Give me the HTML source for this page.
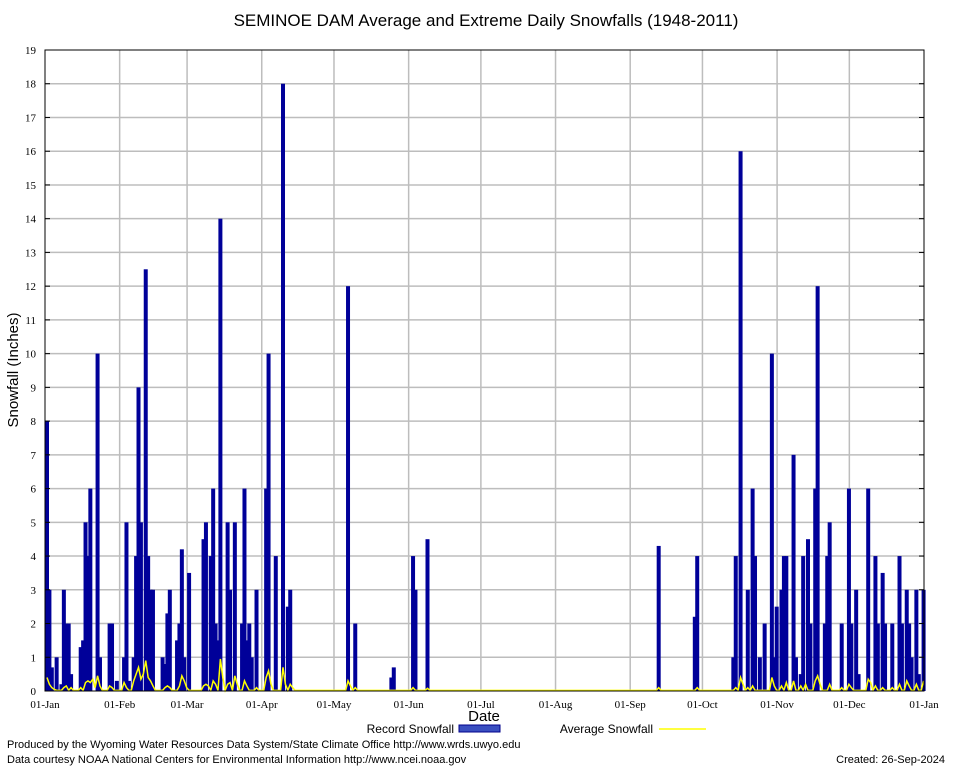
<!DOCTYPE html>
<html><head><meta charset="utf-8"><style>
body{margin:0;background:#fff;}
svg{display:block;font-family:"Liberation Sans",sans-serif;}
</style></head><body>
<svg id="chart" width="954" height="768" viewBox="0 0 954 768">
<rect width="954" height="768" fill="#fff"/>
<text x="486" y="26" text-anchor="middle" font-size="17">SEMINOE DAM Average and Extreme Daily Snowfalls (1948-2011)</text>
<g id="grid"></g><g id="bars"></g><g id="avg"></g><g id="axes"></g>
<text transform="translate(18,370) rotate(-90)" text-anchor="middle" font-size="15">Snowfall (Inches)</text>
<text x="484" y="721" text-anchor="middle" font-size="15">Date</text>
<g>
<text x="454" y="733" text-anchor="end" font-size="12">Record Snowfall</text>
<rect x="459" y="725" width="41" height="7" fill="#3a4fc0" stroke="#00008b"/>
<text x="653" y="733" text-anchor="end" font-size="12">Average Snowfall</text>
<line x1="659" y1="729" x2="706" y2="729" stroke="#ffff00" stroke-width="1.5"/>
</g>
<text x="7" y="748" font-size="11">Produced by the Wyoming Water Resources Data System/State Climate Office http://www.wrds.uwyo.edu</text>
<text x="7" y="763" font-size="11">Data courtesy NOAA National Centers for Environmental Information http://www.ncei.noaa.gov</text>
<text x="945" y="763" text-anchor="end" font-size="11">Created: 26-Sep-2024</text>
</svg>
<script>
const monthLabels=["01-Jan","01-Feb","01-Mar","01-Apr","01-May","01-Jun","01-Jul","01-Aug","01-Sep","01-Oct","01-Nov","01-Dec","01-Jan"];
const monthStartDays=[0,31,59,90,120,151,181,212,243,273,304,334,365];
const yTicks=[0,1,2,3,4,5,6,7,8,9,10,11,12,13,14,15,16,17,18,19];
const recordDays=[0,1,2,4,6,7,8,9,10,14,15,16,17,18,21,22,26,27,29,32,33,34,36,37,38,39,41,42,43,44,48,49,50,51,54,55,56,57,59,65,66,68,69,70,71,72,75,76,78,81,82,83,84,85,87,91,92,95,98,100,101,125,128,143,144,152,153,158,254,269,270,285,286,288,291,293,294,296,298,301,302,303,305,306,307,310,311,313,314,316,317,319,320,323,324,325,330,333,334,336,337,341,344,345,347,348,351,354,355,357,358,359,361,362,364];
const recordValues=[8,3,0.7,1,0.2,3,2,2,0.5,1.3,1.5,5,4,6,10,1,2,2,0.3,1,5,0.3,1,4,9,5,12.5,4,3,3,1,0.8,2.3,3,1.5,2,4.2,1,3.5,4.5,5,4,6,2,1.5,14,5,3,5,2,6,1.5,2,1,3,6,10,4,18,2.5,3,12,2,0.4,0.7,4,3,4.5,4.3,2.2,4,1,4,16,3,6,4,1,2,10,1,2.5,3,4,4,7,1,0.5,4,4.5,2,6,12,2,4,5,2,6,2,3,0.5,6,4,2,3.5,2,2,4,2,3,2,1,3,0.5,3];
const avgDays=[0,1,2,3,7,8,10,14,16,17,18,19,20,21,22,26,27,32,33,36,37,38,39,40,41,42,43,44,49,50,51,55,56,57,58,65,66,67,69,70,72,73,75,76,78,79,82,83,87,91,92,93,98,99,101,102,125,126,128,152,158,254,270,286,288,289,291,293,301,302,305,307,310,313,315,319,320,321,325,330,333,334,341,342,344,347,351,354,357,358,361,364];
const avgValues=[0.4,0.2,0.1,0.05,0.1,0.15,0.1,0.1,0.25,0.3,0.25,0.35,0.1,0.45,0.15,0.15,0.1,0.25,0.1,0.3,0.5,0.7,0.35,0.5,0.9,0.4,0.3,0.15,0.1,0.15,0.1,0.15,0.45,0.3,0.1,0.15,0.2,0.15,0.3,0.2,0.95,0.4,0.2,0.25,0.45,0.2,0.3,0.15,0.1,0.4,0.6,0.2,0.7,0.2,0.2,0.1,0.3,0.15,0.1,0.1,0.08,0.1,0.1,0.1,0.4,0.2,0.1,0.15,0.4,0.15,0.15,0.25,0.3,0.15,0.2,0.3,0.45,0.2,0.2,0.1,0.2,0.1,0.35,0.25,0.15,0.1,0.1,0.2,0.3,0.15,0.2,0.3];

const NS="http://www.w3.org/2000/svg";
const L=45,R=924,T=50,B=691,YMAX=19,NDAYS=365;
function xs(d){return L+d*(R-L)/NDAYS;}
function ys(v){return B-v*(B-T)/YMAX;}
function mk(tag,attrs,parent){const e=document.createElementNS(NS,tag);for(const k in attrs)e.setAttribute(k,attrs[k]);parent.appendChild(e);return e;}
const grid=document.getElementById('grid'),bars=document.getElementById('bars'),avg=document.getElementById('avg'),axes=document.getElementById('axes');
yTicks.forEach(t=>{
  if(t>0&&t<YMAX){const g=mk('line',{x1:L,x2:R,y1:ys(t),y2:ys(t),stroke:'#bdbdbd','stroke-width':1.5},grid);
  
  }
  const lb=mk('text',{x:L-9,y:ys(t)+4,'text-anchor':'end','font-size':11,'font-family':'Liberation Serif, serif'},axes);lb.textContent=t;
  
  
  mk('line',{x1:L,x2:L+5,y1:ys(t),y2:ys(t),stroke:'#000'},axes);
  mk('line',{x1:R,x2:R-5,y1:ys(t),y2:ys(t),stroke:'#000'},axes);
});
monthStartDays.forEach((d,i)=>{
  if(i>0&&i<monthStartDays.length-1){const g=mk('line',{x1:xs(d),x2:xs(d),y1:T,y2:B,stroke:'#bdbdbd','stroke-width':1.5},grid);
  
  }
  const lb=mk('text',{x:xs(d),y:708,'text-anchor':'middle','font-size':11,'font-family':'Liberation Serif, serif'},axes);lb.textContent=monthLabels[i];
  
  
});
recordDays.forEach((d,i)=>{
  const v=recordValues[i];
  const r=mk('rect',{x:xs(d),y:ys(v),width:4,height:B-ys(v),fill:'#000099'},bars);
  
  
});
const avgMap={};avgDays.forEach((d,i)=>avgMap[d]=avgValues[i]);
let pts=[];for(let d=0;d<NDAYS;d++){const v=avgMap[d]!==undefined?avgMap[d]:0.02;pts.push(xs(d)+2+','+ys(v));}
const pl=mk('polyline',{points:pts.join(' '),fill:'none',stroke:'#ffff00','stroke-width':1.5},avg);


const fr=mk('rect',{x:L,y:T,width:R-L,height:B-T,fill:'none',stroke:'#000'},axes);


</script>
</body></html>
